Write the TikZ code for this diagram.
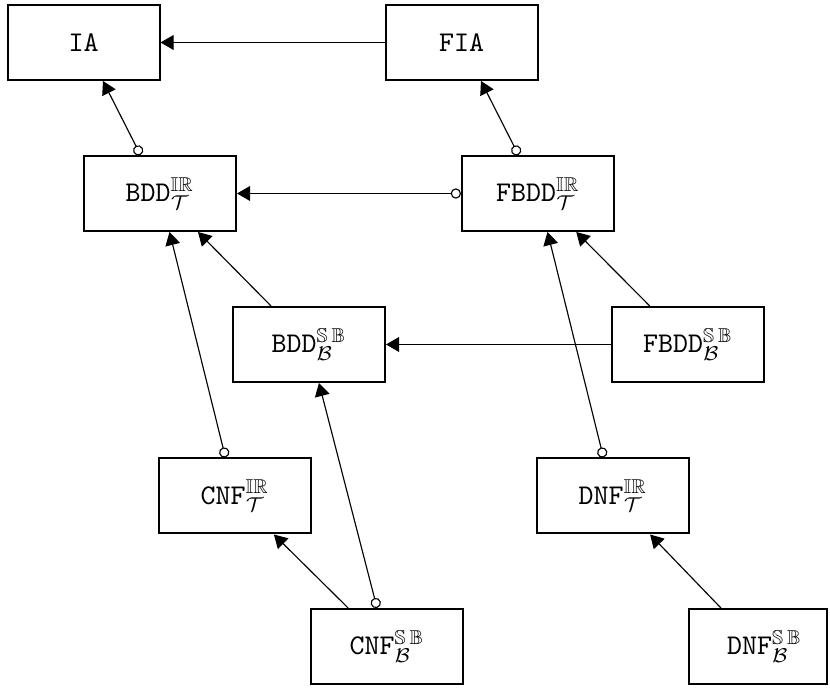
\documentclass[tikz,border=0pt]{standalone}
\usepackage{amssymb}
\usetikzlibrary{arrows.meta}
\begin{document}
\begin{tikzpicture}[x=0.35pt,y=-0.35pt,
  box/.style={draw,line width=0.7pt,minimum width=53.2pt,minimum height=26.25pt,inner sep=0pt,font=\ttfamily},
  conn/.style={line width=0.4pt,-{Triangle[length=4.6pt,width=5.2pt]}},
  oconn/.style={line width=0.4pt,{Circle[open,length=3.6pt,width=3.6pt]}-{Triangle[length=4.6pt,width=5.2pt]}}]
\useasboundingbox (0,0) rectangle (830,688);
\node[box] (IA)    at (83.5,42.5)  {IA};
\node[box] (FIA)   at (461.5,42.5) {FIA};
\node[box] (BDDT)  at (160,193.5)  {BDD$^{\mathbb{IR}}_{\mathcal{T}}$};
\node[box] (FBDDT) at (538,193.5)  {FBDD$^{\mathbb{IR}}_{\mathcal{T}}$};
\node[box] (BDDB)  at (309,344.5)  {BDD$^{\mathbb{S}\,\mathbb{B}}_{\mathcal{B}}$};
\node[box] (FBDDB) at (688,344.5)  {FBDD$^{\mathbb{S}\,\mathbb{B}}_{\mathcal{B}}$};
\node[box] (CNFT)  at (235,496)    {CNF$^{\mathbb{IR}}_{\mathcal{T}}$};
\node[box] (DNFT)  at (613,496)    {DNF$^{\mathbb{IR}}_{\mathcal{T}}$};
\node[box] (CNFB)  at (387,646.5)  {CNF$^{\mathbb{S}\,\mathbb{B}}_{\mathcal{B}}$};
\node[box,minimum width=48.3pt] (DNFB) at (758,646.5) {\hspace*{4.5pt}DNF$^{\mathbb{S}\,\mathbb{B}}_{\mathcal{B}}$};
\draw[conn]  (FIA)   -- (IA);
\draw[oconn] (BDDT)  -- (IA);
\draw[oconn] (FBDDT) -- (FIA);
\draw[oconn] (FBDDT) -- (BDDT);
\draw[conn]  (BDDB)  -- (BDDT);
\draw[oconn] (CNFT)  -- (BDDT);
\draw[conn]  (FBDDB) -- (FBDDT);
\draw[oconn] (DNFT)  -- (FBDDT);
\draw[conn]  (FBDDB) -- (BDDB);
\draw[conn]  (CNFB)  -- (CNFT);
\draw[oconn] (CNFB)  -- (BDDB);
\draw[conn]  (DNFB)  -- (DNFT);
\end{tikzpicture}
\end{document}
